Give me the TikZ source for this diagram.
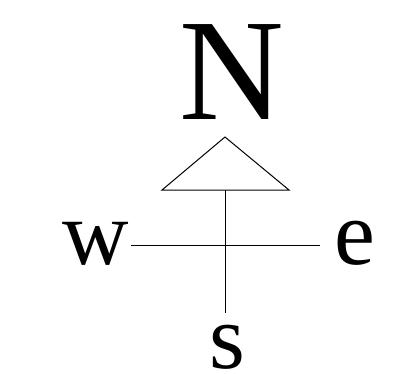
\documentclass[tikz,border=0pt]{standalone}
\usepackage{fontspec}
\setmainfont{Liberation Serif}
\begin{document}
\begin{tikzpicture}[x=1pt,y=-1pt,line width=1pt,
  lbl/.style={inner sep=0pt,anchor=base,font=\fontsize{92}{92}\selectfont},
  big/.style={inner sep=0pt,anchor=base,font=\fontsize{145}{145}\selectfont}]
\useasboundingbox (0,0) rectangle (399,373);
\node[big] (N) at (232,119) {N};
\node[lbl] (w) at (96,264) {w};
\node[lbl] (e) at (355,264) {e};
\node[lbl] (s) at (227,368) {s};
\coordinate (apex) at (225,137);
\coordinate (bl) at (162,190);
\coordinate (br) at (289,190);
\coordinate (bm) at (225,190);
\coordinate (bot) at (225,313);
\coordinate (wl) at (131,245);
\coordinate (er) at (320,245);
\draw[line join=miter] (apex) -- (bl) -- (br) -- cycle;
\draw (bm) -- (bot);
\draw (wl) -- (er);
\end{tikzpicture}
\end{document}
